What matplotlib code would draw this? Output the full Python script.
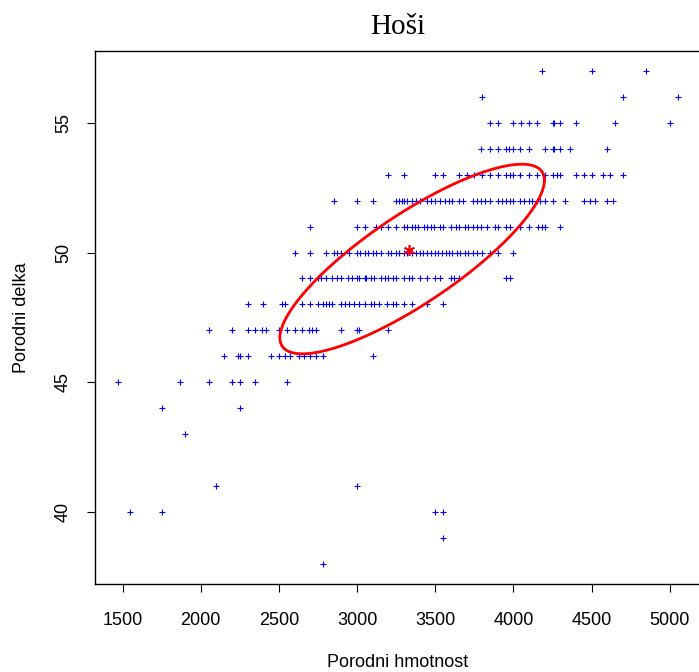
import numpy as np
import matplotlib
matplotlib.use("Agg")
import matplotlib.pyplot as plt

plt.rcParams["font.family"] = ["Liberation Sans", "DejaVu Sans"]

# birth weight (g) of boys, one list per birth length (cm)
w57 = [4180, 4500, 4850]
w56 = [3800, 4700, 5050]
w55 = [3850, 3900, 4000, 4050, 4100, 4150, 4250, 4260, 4300, 4400, 4650, 5000]
w54 = [3790, 3850, 3900, 3950, 3970, 4000, 4040, 4100, 4200, 4250, 4260, 4300,
       4360, 4600]
w53 = [3200, 3300, 3500, 3550, 3650, 3700, 3750, 3800, 3850, 3900, 3950, 3980,
       4000, 4040, 4100, 4150, 4200, 4250, 4280, 4300, 4400, 4450, 4500, 4570,
       4620, 4700]
w52 = [2850, 3000, 3100, 3250, 3270, 3290, 3300, 3320, 3350, 3380, 3400, 3450,
       3470, 3500, 3530, 3560, 3590, 3610, 3650, 3680, 3740, 3770, 3790, 3820,
       3850, 3900, 3930, 3950, 3980, 4000, 4040, 4070, 4100, 4120, 4150, 4170,
       4200, 4250, 4330, 4450, 4490, 4520, 4600, 4640]
w51 = [2700, 3000, 3050, 3120, 3150, 3200, 3250, 3300, 3320, 3350, 3370, 3390,
       3430, 3450, 3470, 3490, 3530, 3550, 3600, 3630, 3650, 3690, 3710, 3740,
       3770, 3790, 3830, 3880, 3900, 3950, 3980, 4040, 4100, 4160, 4180, 4200,
       4300]
w50 = [2600, 2700, 2800, 2850, 2870, 2900, 2950, 3000, 3020, 3050, 3070, 3100,
       3120, 3150, 3200, 3220, 3250, 3270, 3300, 3320, 3350, 3380, 3400, 3420,
       3450, 3470, 3500, 3520, 3540, 3570, 3590, 3610, 3640, 3660, 3690, 3710,
       3740, 3770, 3800, 3850, 3900, 4000]
w49 = [2650, 2700, 2750, 2770, 2800, 2840, 2870, 2900, 2940, 2970, 3000, 3010,
       3050, 3060, 3090, 3110, 3150, 3180, 3200, 3230, 3250, 3300, 3330, 3350,
       3400, 3450, 3500, 3530, 3600, 3620, 3650, 3950, 3980]
w48 = [2300, 2400, 2520, 2540, 2650, 2700, 2750, 2780, 2800, 2820, 2840, 2900,
       2920, 2950, 2980, 3010, 3050, 3090, 3110, 3140, 3190, 3230, 3250, 3300,
       3350, 3450, 3550]
w47 = [2050, 2200, 2300, 2350, 2390, 2420, 2500, 2550, 2600, 2650, 2690, 2710,
       2740, 2900, 3000, 3010, 3200]
w46 = [2150, 2240, 2250, 2300, 2450, 2500, 2540, 2570, 2630, 2660, 2700, 2740,
       2780, 3100]
w45 = [1470, 1870, 2050, 2200, 2250, 2350, 2550]
w44 = [1750, 2250]
w43 = [1900]
w41 = [2100, 3000]
w40 = [1550, 1750, 3500, 3550]
w39 = [3550]
w38 = [2780]

row_lengths = [57, 56, 55, 54, 53, 52, 51, 50, 49, 48, 47, 46, 45, 44, 43, 41,
               40, 39, 38]
row_weights = [w57, w56, w55, w54, w53, w52, w51, w50, w49, w48, w47, w46, w45,
               w44, w43, w41, w40, w39, w38]

# sample mean (red asterisk)
mean_weight = 3331
mean_length = 50.1

# red ellipse: centre, half-extent in x and y, correlation
ell_center = (3352, 49.75)
ell_half = (846, 3.65)
ell_rho = 0.83

x_ticks = [1500, 2000, 2500, 3000, 3500, 4000, 4500, 5000]
y_ticks = [40, 45, 50, 55]

weight = np.concatenate([np.asarray(w, float) for w in row_weights])
length = np.concatenate([np.full(len(w), l, float)
                         for w, l in zip(row_weights, row_lengths)])

fig = plt.figure(figsize=(6.99, 6.72), dpi=100)
ax = fig.add_axes([0.1366, 0.131, 0.8648, 0.7932])

ax.plot(weight, length, ls="none", marker="+", ms=5, mew=0.8, color="blue")
ax.plot([mean_weight], [mean_length], ls="none", marker=(6, 2, 0), ms=8,
        mew=1.2, color="red")

t = np.linspace(0, 2 * np.pi, 400)
ex = ell_center[0] + ell_half[0] * np.cos(t)
ey = ell_center[1] + ell_half[1] * (ell_rho * np.cos(t)
                                    + np.sqrt(1 - ell_rho ** 2) * np.sin(t))
ax.plot(ex, ey, color="red", lw=2)

# R-style 4% padding around the data range
xr = weight.max() - weight.min()
yr = length.max() - length.min()
ax.set_xlim(weight.min() - 0.04 * xr, weight.max() + 0.04 * xr)
ax.set_ylim(length.min() - 0.04 * yr, length.max() + 0.04 * yr)
ax.set_xticks(x_ticks)
ax.set_yticks(y_ticks)
ax.set_yticklabels([str(v) for v in y_ticks], rotation=90, va="center")
ax.tick_params(direction="out", length=6, width=0.8, labelsize=13)
ax.tick_params(axis="x", pad=14)
ax.tick_params(axis="y", pad=11)
for s in ax.spines.values():
    s.set_linewidth(1.0)

ax.set_xlabel("Porodni hmotnost", fontsize=13, labelpad=18)
ax.set_ylabel("Porodni delka", fontsize=13, labelpad=18)
ax.set_title("Hoši", fontsize=21, family="Liberation Serif", pad=12)

fig.savefig("out.png", dpi=100)
